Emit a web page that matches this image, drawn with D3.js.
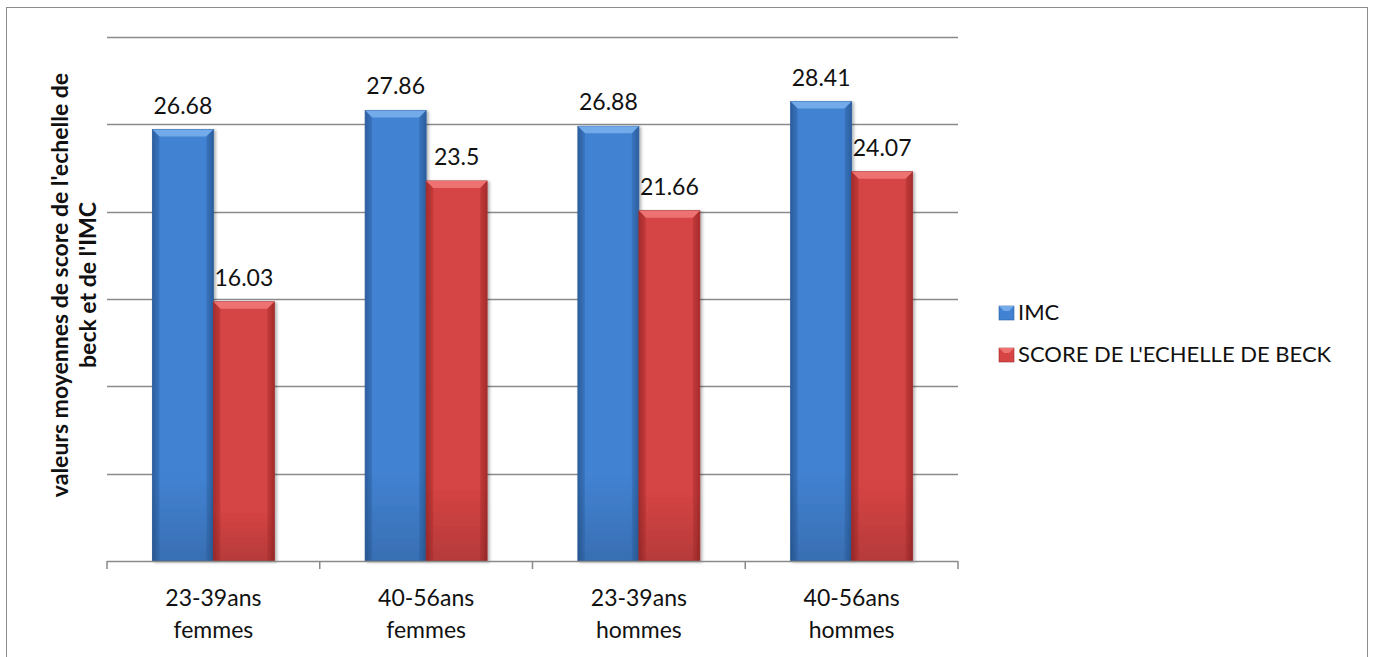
<!DOCTYPE html>
<html>
<head>
<meta charset="utf-8">
<script src="https://cdn.jsdelivr.net/npm/d3@7"></script>
<style>
  html, body { margin: 0; padding: 0; background: #fff; }
  svg { display: block; font-family: "Lato", "Open Sans", sans-serif; }
</style>
</head>
<body>
<svg id="chart" width="1374" height="657"></svg>
<script>
// Mean values per age/sex group
const categories = [["23-39ans", "femmes"], ["40-56ans", "femmes"], ["23-39ans", "hommes"], ["40-56ans", "hommes"]];
const seriesNames = ["IMC", "SCORE DE L'ECHELLE DE BECK"];
const imcValues = [26.68, 27.86, 26.88, 28.41];
const beckValues = [16.03, 23.5, 21.66, 24.07];
const gridValues = [0, 5.4, 10.8, 16.2, 21.6, 27, 32.4];
const axisTitle = ["valeurs moyennes de score de l'echelle de", "beck et de l'IMC"];

const svg = d3.select("#chart");
const plot = { left: 107, right: 958, top: 37, bottom: 561 };

const colors = {
  IMC: { mid: "#4282d2", light: "#72aaea", dark: "#2c5f9f", edge: "#2e619e" },
  BECK: { mid: "#d64444", light: "#ee7272", dark: "#a52c2c", edge: "#a33131" }
};
const keys = ["IMC", "BECK"];
const seriesValues = { IMC: imcValues, BECK: beckValues };

// outer frame
svg.append("rect").attr("x", 6.5).attr("y", 7.5).attr("width", 1361).attr("height", 700)
  .attr("fill", "none").attr("stroke", "#8c8c8c").attr("stroke-width", 1);

const defs = svg.append("defs");
keys.forEach(k => {
  const c = colors[k];
  const g = defs.append("linearGradient").attr("id", "grad-" + k).attr("x1", "0").attr("x2", "1").attr("y1", "0").attr("y2", "0");
  g.append("stop").attr("offset", "0").attr("stop-color", c.dark);
  g.append("stop").attr("offset", "0.12").attr("stop-color", c.mid);
  g.append("stop").attr("offset", "0.88").attr("stop-color", c.mid);
  g.append("stop").attr("offset", "1").attr("stop-color", c.dark);
  const v = defs.append("linearGradient").attr("id", "vgrad-" + k).attr("x1", "0").attr("x2", "0").attr("y1", "0").attr("y2", "1");
  v.append("stop").attr("offset", "0").attr("stop-color", "#fff").attr("stop-opacity", 0);
  v.append("stop").attr("offset", "0.8").attr("stop-color", "#000").attr("stop-opacity", 0);
  v.append("stop").attr("offset", "1").attr("stop-color", "#000").attr("stop-opacity", 0.15);
});
const shadow = defs.append("filter").attr("id", "shadow").attr("x", "-20%").attr("y", "-20%").attr("width", "150%").attr("height", "150%");
shadow.append("feDropShadow").attr("dx", 2).attr("dy", 1).attr("stdDeviation", 1.5).attr("flood-color", "#000").attr("flood-opacity", 0.3);

const y = d3.scaleLinear().domain([0, 32.4]).range([plot.bottom, plot.top]);
const x0 = d3.scaleBand().domain(d3.range(categories.length)).range([plot.left, plot.right]).paddingInner(0).paddingOuter(0);
const x1 = d3.scaleBand().domain(keys).range([0, x0.bandwidth()]).paddingInner(0).paddingOuter(0.744);

// gridlines
svg.append("g").selectAll("line").data(gridValues.slice(1)).join("line")
  .attr("x1", plot.left).attr("x2", plot.right)
  .attr("y1", d => Math.round(y(d)) + 0.5).attr("y2", d => Math.round(y(d)) + 0.5)
  .attr("stroke", "#8a8a8a").attr("stroke-width", 1.5);

// bars
const groups = svg.append("g").selectAll("g").data(categories).join("g")
  .attr("transform", (d, i) => `translate(${x0(i)},0)`);

groups.each(function(cat, i) {
  const g = d3.select(this);
  keys.forEach(k => {
    const v = seriesValues[k][i];
    const bx = x1(k), bw = x1.bandwidth();
    const top = y(v), h = y(0) - y(v);
    const c = colors[k];
    const bar = g.append("g").attr("filter", "url(#shadow)");
    bar.append("rect").attr("x", bx).attr("y", top).attr("width", bw).attr("height", h)
      .attr("fill", `url(#grad-${k})`).attr("stroke", c.edge).attr("stroke-width", 0.8);
    bar.append("rect").attr("x", bx).attr("y", top).attr("width", bw).attr("height", h)
      .attr("fill", `url(#vgrad-${k})`);
    // bevelled top and sides
    const b = 7;
    bar.append("path")
      .attr("d", `M${bx},${top} L${bx + bw},${top} L${bx + bw - b},${top + b} L${bx + b},${top + b} Z`)
      .attr("fill", c.light);
    bar.append("path")
      .attr("d", `M${bx},${top} L${bx + b},${top + b} L${bx + b},${top + h} L${bx},${top + h} Z`)
      .attr("fill", c.dark).attr("opacity", 0.35);
    bar.append("path")
      .attr("d", `M${bx + bw},${top} L${bx + bw - b},${top + b} L${bx + bw - b},${top + h} L${bx + bw},${top + h} Z`)
      .attr("fill", c.dark).attr("opacity", 0.35);
    g.append("text").attr("x", bx + bw / 2).attr("y", top - 16)
      .attr("text-anchor", "middle").attr("font-size", 23).attr("fill", "#111")
      .text(String(v));
  });
});

// category axis
const xAxis = svg.append("g");
xAxis.append("line").attr("x1", plot.left).attr("x2", plot.right)
  .attr("y1", plot.bottom + 0.5).attr("y2", plot.bottom + 0.5)
  .attr("stroke", "#8a8a8a").attr("stroke-width", 1.5);
xAxis.selectAll("line.tick").data(d3.range(categories.length + 1)).join("line").attr("class", "tick")
  .attr("x1", i => plot.left + i * x0.step()).attr("x2", i => plot.left + i * x0.step())
  .attr("y1", plot.bottom).attr("y2", plot.bottom + 8)
  .attr("stroke", "#8a8a8a").attr("stroke-width", 1.5);
xAxis.selectAll("text").data(categories).join("text")
  .attr("x", (d, i) => x0(i) + x0.bandwidth() / 2).attr("y", 606)
  .attr("text-anchor", "middle").attr("font-size", 23).attr("fill", "#111")
  .selectAll("tspan").data(d => d).join("tspan")
  .attr("x", function() { return d3.select(this.parentNode).attr("x"); })
  .attr("dy", (d, j) => j === 0 ? 0 : 32).text(d => d);

// axis title
svg.append("text").attr("transform", `translate(68,${(plot.top + plot.bottom) / 2 - 14}) rotate(-90)`)
  .attr("text-anchor", "middle").attr("font-size", 23).attr("font-weight", "bold").attr("fill", "#111")
  .selectAll("tspan").data(axisTitle).join("tspan")
  .attr("x", 0).attr("dy", (d, j) => j === 0 ? 0 : 28).text(d => d);

// legend
const legend = svg.append("g").attr("transform", "translate(999,0)");
keys.forEach((k, i) => {
  const base = 320 + i * 42;
  const c = colors[k];
  const lg = legend.append("g");
  lg.append("rect").attr("x", 0).attr("y", base - 14).attr("width", 15).attr("height", 14)
    .attr("fill", c.mid).attr("stroke", c.edge).attr("stroke-width", 0.6);
  lg.append("path").attr("d", `M0,${base - 14} L15,${base - 14} L10,${base - 9} L5,${base - 9} Z`).attr("fill", c.light);
  lg.append("text").attr("x", 19).attr("y", base).attr("font-size", 22).attr("fill", "#111")
    .text(seriesNames[i]);
});
</script>
</body>
</html>
